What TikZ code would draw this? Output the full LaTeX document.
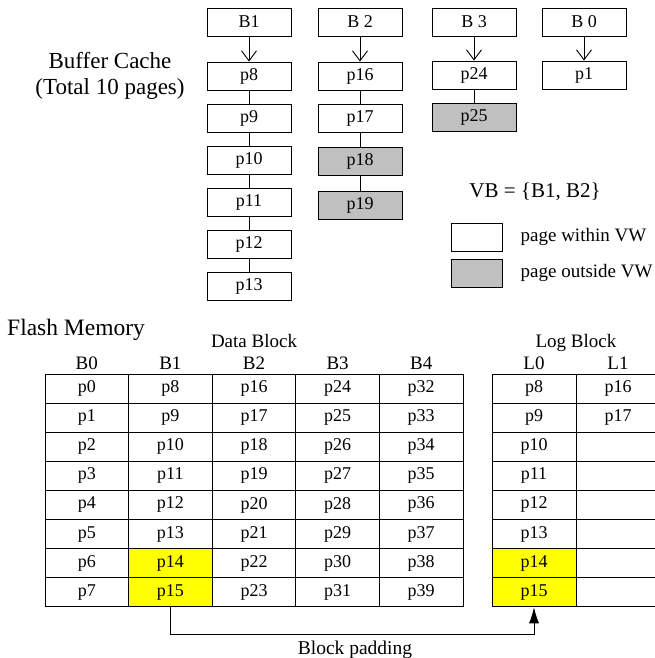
\documentclass[tikz,border=0pt]{standalone}
\usepackage{fontspec}
\setmainfont{Liberation Serif}
\usepackage{xcolor}
\usetikzlibrary{arrows.meta, positioning, calc}
\definecolor{outgray}{RGB}{192,192,192}
\definecolor{padyellow}{RGB}{255,255,0}

\begin{document}
\begin{tikzpicture}[
    x=1pt, y=-1pt,
    cachebox/.style={rectangle, draw=black, line width=0.9pt, fill=#1,
               minimum width=84pt, minimum height=28pt, inner sep=0pt,
               font=\fontsize{18}{18}\selectfont},
    cachebox/.default=white,
    cell/.style={rectangle, draw=black, line width=0.9pt, fill=#1,
               minimum width=83.6pt, minimum height=29.1pt, inner sep=0pt,
               font=\fontsize{18}{18}\selectfont},
    cell/.default=white,
    lbl/.style={anchor=base, inner sep=0pt, font=\fontsize{#1}{#1}\selectfont},
    ptr/.style={-{Straight Barb[length=10pt, width=15pt]}, line width=0.9pt},
    link/.style={line width=0.9pt},
    pad/.style={-{Latex[length=16pt, width=10pt]}, line width=0.9pt}
  ]
  \useasboundingbox (0,0) rectangle (655,658);

  % buffer cache
  \node[lbl=23] (bc)  at (110,69) {Buffer Cache};
  \node[lbl=23] (tot) at (110,95) {(Total 10 pages)};

  \node[cachebox] (cB1) at (249,22) {B1};
  \node[cachebox] (cB2) at (360,22) {B 2};
  \node[cachebox] (cB3) at (474,22) {B 3};
  \node[cachebox] (cB0) at (584,22) {B 0};

  \foreach \p [count=\i] in {8,...,13}
    \node[cachebox] (c\p) at (249,34+42*\i) {p\p};
  \node[cachebox]         (c16) at (360,76)  {p16};
  \node[cachebox]         (c17) at (360,118) {p17};
  \node[cachebox=outgray] (c18) at (360,161) {p18};
  \node[cachebox=outgray] (c19) at (360,205) {p19};
  \node[cachebox]         (c24) at (474,75)  {p24};
  \node[cachebox=outgray] (c25) at (474,117) {p25};
  \node[cachebox]         (c1)  at (584,75)  {p1};

  \foreach \a/\b in {cB1/c8, cB2/c16, cB3/c24, cB0/c1}
    \draw[ptr] (\a) -- (\b);
  \foreach \a/\b in {c8/c9, c9/c10, c10/c11, c11/c12, c12/c13,
                     c16/c17, c17/c18, c18/c19, c24/c25}
    \draw[link] (\a) -- (\b);

  % legend
  \node[lbl=21] (vb) at (535,197) {VB = \{B1, B2\}};
  \node[cachebox, minimum width=51pt]         (within)  at (476.5,237) {};
  \node[cachebox=outgray, minimum width=51pt] (outside) at (476.5,273) {};
  \node[right=18pt of within, inner sep=0pt, font=\fontsize{19}{19}\selectfont]
    (withintxt) {page within VW};
  \node[right=18pt of outside, inner sep=0pt, font=\fontsize{19}{19}\selectfont]
    (outsidetxt) {page outside VW};

  % flash memory
  \node[lbl=23.5, anchor=base west] (flash) at (7,335) {Flash Memory};
  \node[lbl=19] (data) at (254,347) {Data Block};
  \node[lbl=19] (log)  at (576,347) {Log Block};

  \foreach \c in {0,...,4}
    \node[lbl=19] (hd\c) at (86.8+83.6*\c,369) {B\c};
  \foreach \c in {0,1}
    \node[lbl=19] (hl\c) at (534+84*\c,369) {L\c};

  \foreach \c in {0,...,4}
    \foreach \r in {0,...,7} {
      \pgfmathtruncatemacro\n{8*\c+\r}
      \def\fc{white}
      \ifnum\c=1 \ifnum\r>5 \def\fc{padyellow}\fi\fi
      \node[cell=\fc] (d\c-\r) at (86.8+83.6*\c,388.55+29.1*\r) {p\n};
    }

  \foreach \r in {0,...,7} {
    \pgfmathtruncatemacro\n{8+\r}
    \def\fc{white}
    \ifnum\r>5 \def\fc{padyellow}\fi
    \node[cell=\fc, minimum width=84pt] (l0-\r) at (534,388.55+29.1*\r) {p\n};
    \pgfmathtruncatemacro\m{16+\r}
    \ifnum\r<2 \def\t{p\m}\else\def\t{}\fi
    \node[cell, minimum width=84pt] (l1-\r) at (618,388.55+29.1*\r) {\t};
  }

  \draw[pad] (d1-7.south) -- ++(0,27) -| (l0-7.south);
  \node[lbl=19.5] (padtxt) at (355,654) {Block padding};

\end{tikzpicture}
\end{document}
